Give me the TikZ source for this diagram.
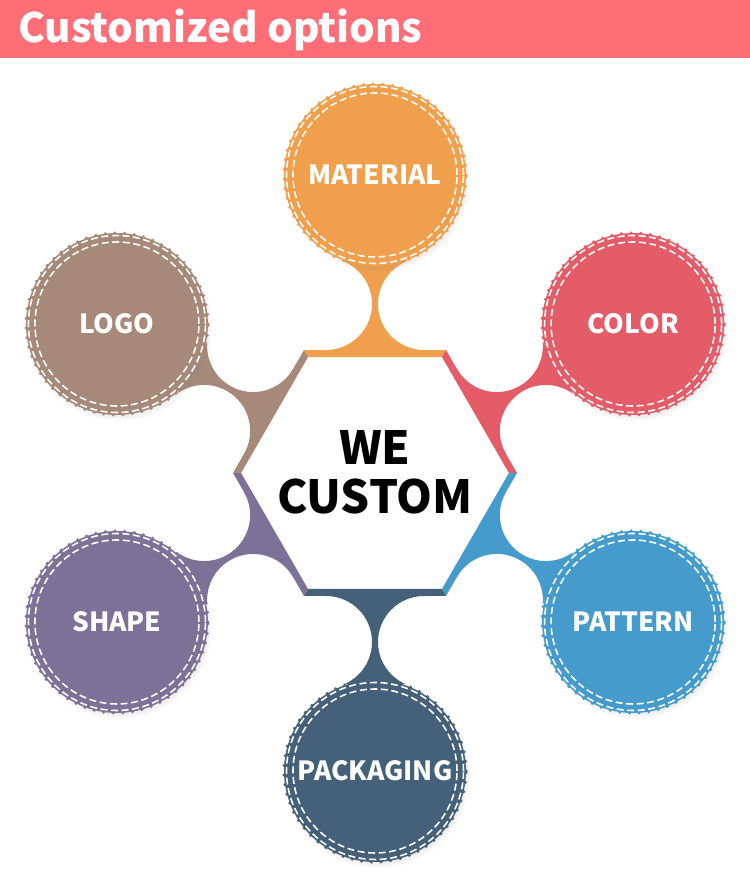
\documentclass[tikz,border=0pt]{standalone}
\usepackage{fontspec}
\setmainfont{Noto Sans CJK KR}
\usepackage{tikz}
\usetikzlibrary{shadows, calc}
\definecolor{hdrpink}{RGB}{255,110,118}
\definecolor{optorange}{RGB}{240,160,76}
\definecolor{optred}{RGB}{228,92,104}
\definecolor{optblue}{RGB}{69,156,204}
\definecolor{optnavy}{RGB}{69,97,122}
\definecolor{optpurple}{RGB}{124,114,152}
\definecolor{optbrown}{RGB}{166,137,120}
\tikzset{
  optcircle/.style={circle, minimum size=3.64cm, inner sep=0pt,
    text=white, font=\bfseries\fontsize{15}{18}\selectfont,
    circular drop shadow={shadow xshift=1pt, shadow yshift=-2pt,
      shadow scale=1.03, opacity=0.3}},
  stitch/.style={white, line width=0.9pt, dash pattern=on 4pt off 2pt},
  scallop/.style={line width=2pt, line cap=round, dash pattern=on 0pt off 5.5pt},
  title/.style={anchor=base west, text=white, font=\bfseries\fontsize{23}{26}\selectfont},
  centertext/.style={align=center, font=\bfseries\fontsize{26}{28}\selectfont}
}

\begin{document}
\begin{tikzpicture}[x=0.02cm, y=0.02cm]
  \useasboundingbox (0,0) rectangle (750,893);
  % header
  \fill[hdrpink] (0,835) rectangle (750,893);
  \node[title] (head) at (12,850) {Customized options};
  % hexagon edges and necks
  \foreach \a/\c in {90/optorange, 30/optred, -30/optblue, -90/optnavy, -150/optpurple, 150/optbrown} {
    \begin{scope}[shift={(375,420)}]
      \fill[\c] (\a-30:142) -- (\a+30:142) -- (\a+30:133.9) -- (\a-30:133.9) -- cycle;
    \end{scope}
    \begin{scope}[shift={(375,420)}, rotate=\a-90]
      \clip (-49,119) rectangle (49,211);
      \fill[\c, even odd rule] (-70,100) rectangle (70,230)
        (-49,169) circle (46) (49,169) circle (46);
    \end{scope}
  }
  % option circles
  \foreach \a/\c/\lbl/\n in {90/optorange/MATERIAL/material, 30/optred/COLOR/color,
      -30/optblue/PATTERN/pattern, -90/optnavy/PACKAGING/packaging,
      -150/optpurple/SHAPE/shape, 150/optbrown/LOGO/logo} {
    \node[optcircle, fill=\c] (\n) at ($(375,420)+(\a:298)$) {\lbl};
    \draw[\c, scallop] (\n.center) circle (91);
    \draw[stitch] (\n.center) circle (88.5);
    \draw[stitch] (\n.center) circle (82);
  }
  \node[centertext] (we) at (375,421) {WE\\CUSTOM};
\end{tikzpicture}
\end{document}
